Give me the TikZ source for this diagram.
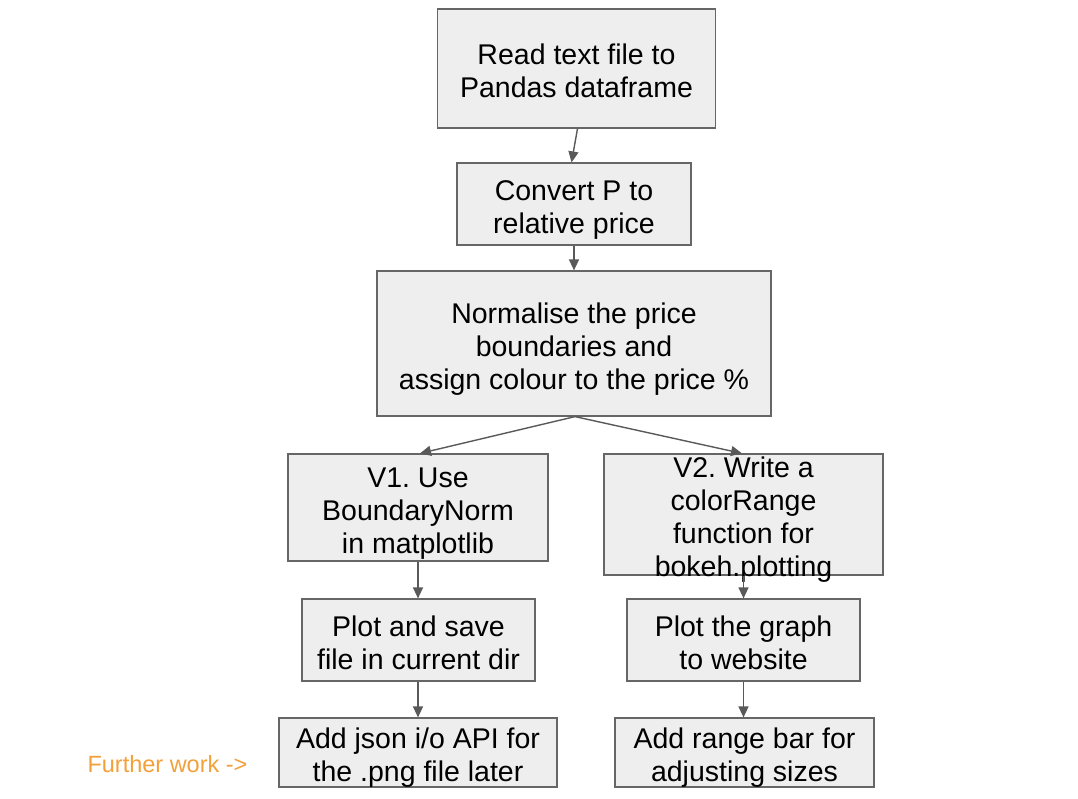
\documentclass[tikz,border=0pt]{standalone}
\usepackage{fontspec}
\setmainfont{Liberation Sans}
\usetikzlibrary{arrows.meta}
\frenchspacing
\definecolor{boxfill}{HTML}{EEEEEE}
\definecolor{boxline}{HTML}{666666}
\definecolor{arrowcol}{HTML}{595959}
\definecolor{orangetxt}{HTML}{F3A03A}
\newcommand{\boxfont}{\fontsize{28.5}{33}\selectfont}
\newcommand{\tp}{\vrule height 32pt depth 0pt width 0pt}
\newcommand{\bt}{\vrule height 0pt depth 6.2pt width 0pt}
\tikzset{
  box/.style={draw=boxline, fill=boxfill, line width=1.2pt, inner xsep=0pt, inner ysep=-5pt, align=center,
    font=\boxfont},
  txt/.style={inner sep=0pt, align=center, font=\boxfont},
  conn/.style={draw=arrowcol, line width=1.4pt, -{Triangle[length=11pt,width=10pt]}},
}
\begin{document}
\begin{tikzpicture}[x=1pt,y=-1pt]
\useasboundingbox (0,0) rectangle (1078,798);
\node[box, minimum width=278pt, minimum height=119pt] (b1) at (576.5,68.5) {\tp Read text file to\\Pandas dataframe\bt};
\node[box, minimum width=234pt, minimum height=82pt] (b2) at (574,204) {\tp Convert P to\\relative price\bt};
\node[box, minimum width=394pt, minimum height=145pt] (b3) at (574,343.5) {\tp Normalise the price\\boundaries and\\assign colour to the price \%\bt};
\node[box, minimum width=260pt, minimum height=107pt] (b4) at (418,507.5) {\tp V1. Use\\BoundaryNorm\\in matplotlib\bt};
\node[box, minimum width=279pt, minimum height=121pt] (b5) at (743.5,514.5) {};
\node[txt] (t5) at (743.5,519.5) {V2. Write a\\colorRange\\function for\\bokeh.plotting};
\node[box, minimum width=233pt, minimum height=82pt] (b6) at (418.5,640) {\tp Plot and save\\file in current dir\bt};
\node[box, minimum width=233pt, minimum height=82pt] (b7) at (743.5,640) {\tp Plot the graph\\to website\bt};
\node[box, minimum width=278pt, minimum height=69pt] (b8) at (418,752.5) {\tp Add json i/o API for\\the .png file later\bt};
\node[box, minimum width=259pt, minimum height=69pt] (b9) at (744.5,752.5) {\tp Add range bar for\\adjusting sizes\bt};
\node[inner sep=0pt, text=orangetxt, font=\fontsize{23.5}{27}\selectfont] (fw) at (167.5,764) {Further work ->};

\draw[conn] ([xshift=1pt]b1.south) -- ([xshift=-2.5pt]b2.north);
\draw[conn] (b2.south) -- (b3.north);
\draw[conn] ([xshift=1pt]b3.south) -- ([xshift=2pt]b4.north);
\draw[conn] ([xshift=1pt]b3.south) -- ([xshift=-1.5pt]b5.north);
\draw[conn] (b4.south) -- (b6.north -| b4.south);
\draw[conn] (b5.south) -- (b7.north);
\draw[conn] (b6.south -| b8.north) -- (b8.north);
\draw[conn] (b7.south) -- (b9.north -| b7.south);
\end{tikzpicture}
\end{document}
